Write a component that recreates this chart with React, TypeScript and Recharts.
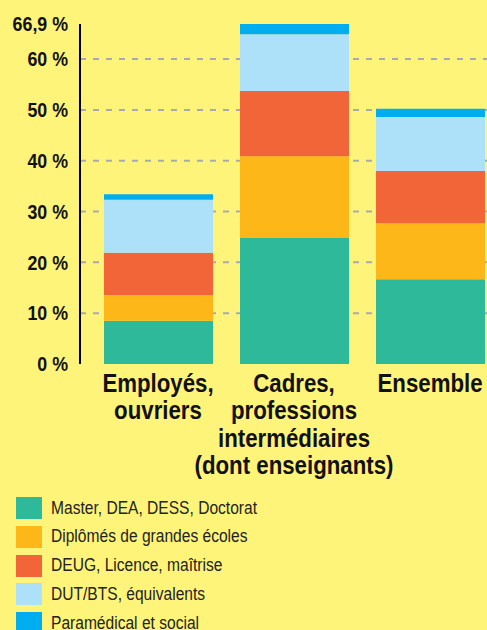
import { BarChart, Bar, XAxis, YAxis, CartesianGrid } from 'recharts';

const categories = [
  'Employés, ouvriers',
  'Cadres, professions intermédiaires (dont enseignants)',
  'Ensemble',
];
const categoryLines = [
  ['Employés,', 'ouvriers'],
  ['Cadres,', 'professions', 'intermédiaires', '(dont enseignants)'],
  ['Ensemble'],
];

const master = [8.5, 24.8, 16.7];
const grandesEcoles = [5.1, 16.1, 11.0];
const deug = [8.3, 12.8, 10.3];
const dutBts = [10.4, 11.2, 10.6];
const paramedical = [1.1, 2.0, 1.6];

const yTicks = [0, 10, 20, 30, 40, 50, 60, 66.9];
const gridValues = [10, 20, 30, 40, 50, 60];

const series = [
  { key: 'master', name: 'Master, DEA, DESS, Doctorat', color: '#2EB99A' },
  { key: 'grandesEcoles', name: 'Diplômés de grandes écoles', color: '#FDB718' },
  { key: 'deug', name: 'DEUG, Licence, maîtrise', color: '#F26539' },
  { key: 'dutBts', name: 'DUT/BTS, équivalents', color: '#ADE1FA' },
  { key: 'paramedical', name: 'Paramédical et social', color: '#00AEEF' },
];

const chartData = categories.map((name, i) => ({
  name,
  master: master[i],
  grandesEcoles: grandesEcoles[i],
  deug: deug[i],
  dutBts: dutBts[i],
  paramedical: paramedical[i],
}));

const FONT = "'Liberation Sans', Arial, sans-serif";
// the original uses a condensed face; squeeze Liberation Sans a little
const SQUEEZE = 0.89;

function CategoryTick({ x, y, index }: any) {
  const lines = categoryLines[index] || [];
  return (
    <text
      transform={`translate(${x} ${y}) scale(${SQUEEZE} 1)`}
      textAnchor="middle"
      fill="#111"
      fontFamily={FONT}
      fontWeight="bold"
      fontSize={25}
    >
      {lines.map((line, i) => (
        <tspan key={line} x={0} dy={i === 0 ? 20 : 27.4}>
          {line}
        </tspan>
      ))}
    </text>
  );
}

function ValueTick({ x, y, payload }: any) {
  const label = `${String(payload.value).replace('.', ',')} %`;
  return (
    <text
      transform={`translate(${x} ${y}) scale(${SQUEEZE} 1)`}
      textAnchor="end"
      dy="0.36em"
      fill="#111"
      fontFamily={FONT}
      fontWeight="bold"
      fontSize={20}
    >
      {label}
    </text>
  );
}

export default function App() {
  return (
    <div
      style={{
        position: 'absolute',
        left: 0,
        top: 0,
        width: 487,
        height: 630,
        overflow: 'hidden',
        background: '#FFF47A',
        fontFamily: FONT,
      }}
    >
      <BarChart
        width={500}
        height={490}
        data={chartData}
        margin={{ top: 24, right: 2, left: 0, bottom: 10 }}
        barSize={109}
      >
        <CartesianGrid
          vertical={false}
          stroke="#A9A9B0"
          strokeWidth={2}
          strokeDasharray="6 7"
          horizontalValues={gridValues}
        />
        <XAxis
          dataKey="name"
          axisLine={false}
          tickLine={false}
          interval={0}
          height={116}
          padding={{ left: 10, right: 0 }}
          tick={<CategoryTick />}
        />
        <YAxis
          width={80}
          domain={[0, 66.9]}
          ticks={yTicks}
          interval={0}
          axisLine={{ stroke: '#000', strokeWidth: 2 }}
          tickLine={false}
          tickSize={6}
          tickMargin={6}
          tick={<ValueTick />}
        />
        {series.map((s) => (
          <Bar key={s.key} dataKey={s.key} name={s.name} stackId="a" fill={s.color} isAnimationActive={false} />
        ))}
      </BarChart>
      <div style={{ position: 'absolute', left: 16, top: 497 }}>
        {series.map((s) => (
          <div key={s.key} style={{ display: 'flex', alignItems: 'center', height: 22, marginBottom: 6.8 }}>
            <div style={{ width: 26, height: 22, background: s.color, flexShrink: 0 }} />
            <span
              style={{
                display: 'inline-block',
                marginLeft: 9,
                fontSize: 17.5,
                color: '#222',
                whiteSpace: 'nowrap',
                transform: `scaleX(${SQUEEZE})`,
                transformOrigin: 'left center',
              }}
            >
              {s.name}
            </span>
          </div>
        ))}
      </div>
    </div>
  );
}
